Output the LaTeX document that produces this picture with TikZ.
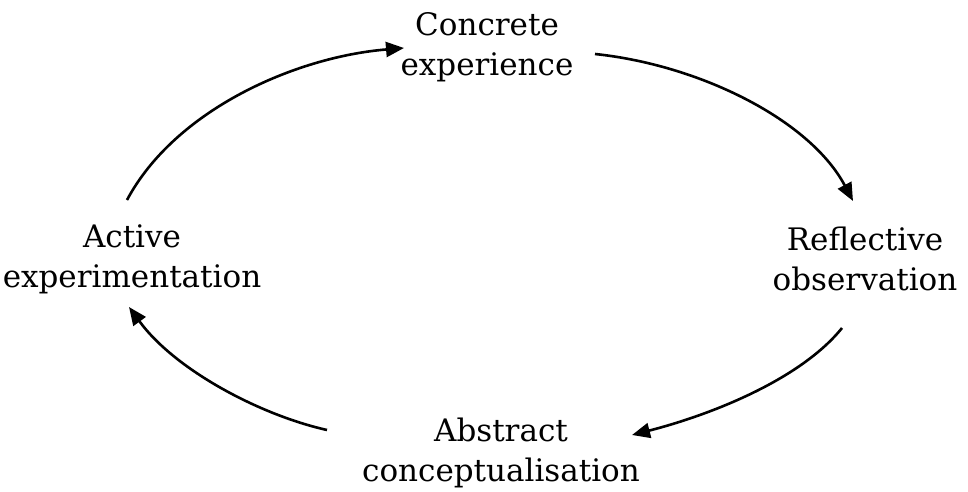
\documentclass[tikz,border=0pt]{standalone}
\usepackage{fontspec}
\setmainfont{DejaVu Serif}
\usetikzlibrary{arrows.meta}
\tikzset{
  lbl/.style={align=center, inner sep=0pt, font=\fontsize{31}{40}\selectfont},
  cyc/.style={line width=2.6pt, -{Triangle[length=18pt,width=15pt]}}
}
\begin{document}
\begin{tikzpicture}[x=1pt,y=-1pt]
\useasboundingbox (0,0) rectangle (968,492);
\node[lbl] (ce) at (487,47) {Concrete\\experience};
\node[lbl] (ro) at (865,259) {Reflective\\observation};
\node[lbl] (ac) at (501,453) {Abstract\\conceptualisation};
\node[lbl] (ae) at (132,259) {Active\\experimentation};
\coordinate (s1) at (127,200);
\coordinate (e1) at (404,48);
\coordinate (s2) at (595,54);
\coordinate (e2) at (853,201);
\coordinate (s3) at (842,328);
\coordinate (e3) at (632,435);
\coordinate (s4) at (327,430);
\coordinate (e4) at (129,307);
\draw[cyc] (s1) .. controls (175,110) and (295,57) .. (e1);
\draw[cyc] (s2) .. controls (700,65) and (810,120) .. (e2);
\draw[cyc] (s3) .. controls (800,380) and (710,415) .. (e3);
\draw[cyc] (s4) .. controls (260,415) and (175,370) .. (e4);
\end{tikzpicture}
\end{document}
